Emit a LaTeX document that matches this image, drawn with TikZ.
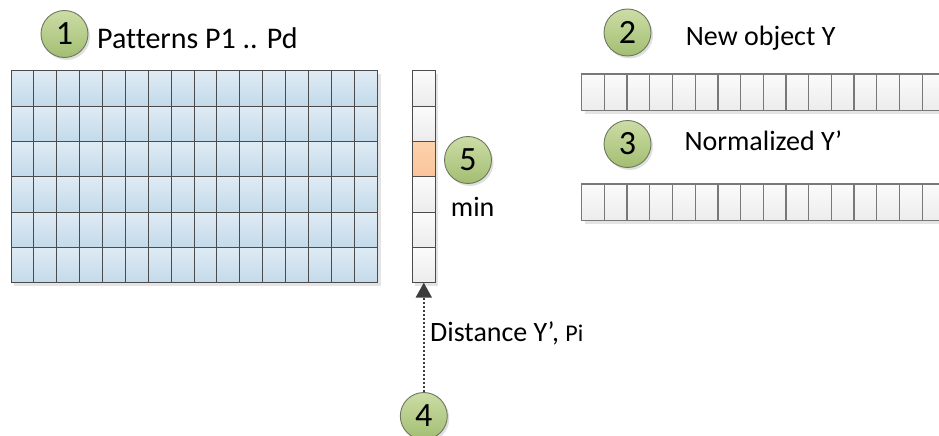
\documentclass[tikz,border=0pt]{standalone}
\usepackage{fontspec}
\setmainfont{Carlito}[Ligatures={NoCommon}]
\usetikzlibrary{arrows.meta,shadows}

\definecolor{gridtop}{RGB}{223,235,244}
\definecolor{gridbot}{RGB}{195,218,234}
\definecolor{gridedge}{RGB}{75,75,75}
\definecolor{celltop}{RGB}{251,251,251}
\definecolor{cellbot}{RGB}{236,236,236}
\definecolor{celledge}{RGB}{120,120,120}
\definecolor{mintop}{RGB}{252,210,172}
\definecolor{minbot}{RGB}{250,196,155}
\definecolor{greentop}{RGB}{204,221,166}
\definecolor{greenbot}{RGB}{162,190,114}
\definecolor{greenedge}{RGB}{110,118,96}
\definecolor{shadowgray}{RGB}{228,228,228}
\definecolor{arrowgray}{RGB}{60,60,60}

\tikzset{
  pcell/.style={draw=gridedge, line width=1pt, top color=gridtop, bottom color=gridbot,
    minimum width=22.875pt, minimum height=35.33pt, inner sep=0pt, outer sep=0pt},
  vcell/.style={draw=gridedge, line width=1pt, top color=celltop, bottom color=cellbot,
    minimum width=23pt, minimum height=35.33pt, inner sep=0pt, outer sep=0pt},
  mincell/.style={vcell, top color=mintop, bottom color=minbot},
  ycell/.style={draw=celledge, line width=1.3pt, top color=celltop, bottom color=cellbot,
    minimum width=22.7pt, minimum height=36.7pt, inner sep=0pt, outer sep=0pt},
  stepmark/.style={circle, draw=greenedge, line width=0.9pt, top color=greentop, bottom color=greenbot,
    minimum size=47pt, inner sep=0pt, font=\fontsize{34}{38}\selectfont,
    drop shadow={shadow xshift=2pt, shadow yshift=-2.5pt, opacity=0.25, fill=gray}},
  label/.style={anchor=base west, inner sep=0pt, font=\fontsize{28}{34}\selectfont},
  flowarrow/.style={draw=arrowgray, line width=2pt, dash pattern=on 2.5pt off 1.5pt,
    -{Triangle[width=16pt,length=15pt,fill=arrowgray]}},
}

\begin{document}
\begin{tikzpicture}[x=1pt,y=-1pt]
\useasboundingbox (0,0) rectangle (939,436);
\clip (0,0) rectangle (939,436);

% soft shadows under the cell blocks
\fill[shadowgray] (14,74) rectangle (380.5,286);
\fill[shadowgray] (415.3,74) rectangle (438.3,286);
\fill[shadowgray] (584.7,77) rectangle (960,113.7);
\fill[shadowgray] (584.7,187) rectangle (960,223.7);

% pattern matrix P1 .. Pd
\foreach \r in {1,...,6}
  \foreach \c in {1,...,16}
    \node[pcell] (g-\r-\c) at ({11+(\c-0.5)*22.875},{70.7+(\r-0.5)*35.33}) {};

% distance vector, minimum entry highlighted
\foreach \r/\st in {1/vcell,2/vcell,3/mincell,4/vcell,5/vcell,6/vcell}
  \node[\st] (v\r) at (423.8,{70.7+(\r-0.5)*35.33}) {};

% new object Y and its normalized form
\foreach \c in {1,...,16} {
  \node[ycell] (y-\c) at ({581.7+(\c-0.5)*22.7},92.35) {};
  \node[ycell] (yn-\c) at ({581.7+(\c-0.5)*22.7},202.35) {};
}

% numbered steps
\node[stepmark] (c1) at (64.5,34) {1};
\node[stepmark] (c2) at (627.5,32.5) {2};
\node[stepmark] (c3) at (627.5,144) {3};
\node[stepmark] (c5) at (468,160) {5};
\node[stepmark] (c4) at (423.8,416) {4};

% labels
\node[label, font=\fontsize{30}{36}\selectfont] (l1) at (97,48.3) {Patterns P1 .. Pd};
\node[label] (l2) at (685.7,45.7) {New object Y};
\node[label] (l3) at (684.3,150.7) {Normalized Y’};
\node[label] (l5) at (450.7,216) {min};
\node[label] (l4) at (430,341.7) {Distance Y’, {\fontsize{24}{28}\selectfont Pi}};

% distance computation feeds the vector
\draw[flowarrow] (c4.north) -- (v6.south);
\end{tikzpicture}
\end{document}
